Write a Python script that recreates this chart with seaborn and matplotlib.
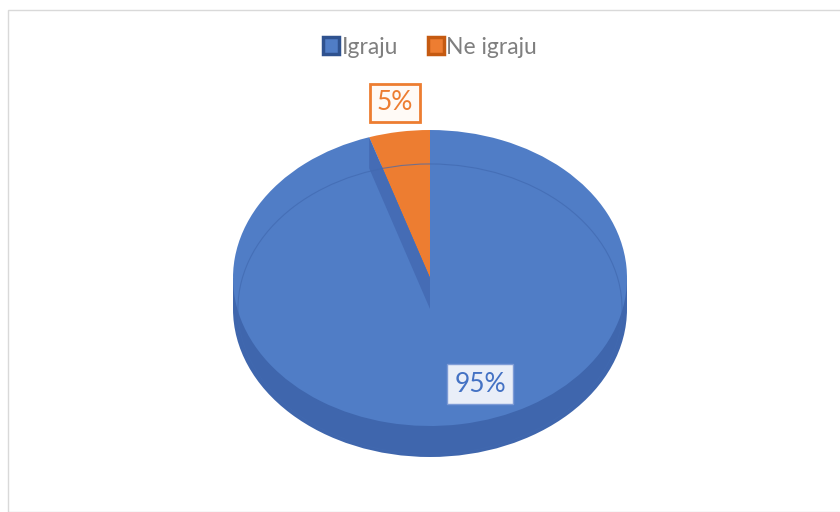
import matplotlib
matplotlib.use("Agg")
import matplotlib.pyplot as plt
from matplotlib.patches import Patch, Rectangle, Polygon, Ellipse
import numpy as np
import seaborn as sns

categories = ["Igraju", "Ne igraju"]
values = [95, 5]
labels = ["95%", "5%"]

sns.set_theme(style="white")
plt.rcParams['font.family'] = ['Lato', 'DejaVu Sans']

top_colors = ["#507dc6", "#ed7d31"]
edge_colors = ["#2f528f", "#c55a11"]
side_color = "#3f66ad"

W, H = 840, 512
fig = plt.figure(figsize=(W / 100, H / 100), dpi=100)
ax = fig.add_axes([0, 0, 1, 1])

cx, cy = 430, 278      # pixel centre of top face
rx, ry = 197, 148      # pixel radii
depth = 31 / ry        # side thickness in y units

# Side wall
ax.add_patch(Ellipse((0, -depth), 2, 2, facecolor=side_color, edgecolor="none", zorder=1))
ax.add_patch(Rectangle((-1, -depth), 2, depth, facecolor=side_color, edgecolor="none", zorder=1))

wedges, _ = ax.pie(values[::-1], colors=top_colors[::-1], startangle=90,
                   counterclock=True, radius=1, center=(0, 0),
                   wedgeprops=dict(edgecolor="none"))
for w in wedges:
    w.set_zorder(2)

# cut face of the large slice visible at the small slice's edge
theta = np.deg2rad(90 + 360 * values[1] / sum(values))
c, s = np.cos(theta), np.sin(theta)
ax.add_patch(Polygon([(0, 0), (c, s), (c, s - depth), (0, -depth)], closed=True,
                     facecolor="#456cb5", edgecolor="none", zorder=3))
# faint bottom outline showing through the top face
ax.add_patch(Ellipse((0, -depth), 1.95, 1.96, facecolor="none", edgecolor="#4169b0",
                     lw=0.8, alpha=0.7, zorder=4))

ax.set_aspect("auto")
ax.set_xlim(-cx / rx, (W - cx) / rx)
ax.set_ylim((cy - H) / ry, cy / ry)
ax.axis("off")

# Data labels
ax.text((395 - cx) / rx, (cy - 103) / ry, labels[1], fontsize=19, color="#ed7d31",
        ha="center", va="center", zorder=6,
        bbox=dict(boxstyle="square,pad=0.25", facecolor="#fffaf6", edgecolor="#ed7d31", lw=2))
ax.text((480 - cx) / rx, (cy - 384) / ry, labels[0], fontsize=19, color="#4472c4",
        ha="center", va="center", zorder=6,
        bbox=dict(boxstyle="square,pad=0.28", facecolor="#e9eef8", edgecolor="#7d9bd6", lw=1.0))

handles = [Patch(facecolor=top_colors[i], edgecolor=edge_colors[i], lw=2.5, label=categories[i])
           for i in range(2)]
leg = fig.legend(handles=handles, loc="center", bbox_to_anchor=(0.512, 1 - 47 / H), ncol=2,
                 frameon=False, fontsize=16.5, handlelength=0.7, handleheight=0.7,
                 handletextpad=0.1, columnspacing=1.3, labelcolor="#7f7f7f")

fig.patches.append(Rectangle((8 / W, 0), (W - 8) / W + 0.01, 1 - 10 / H, transform=fig.transFigure,
                             facecolor="none", edgecolor="#d9d9d9", lw=1))

fig.savefig("out.png", dpi=100)
